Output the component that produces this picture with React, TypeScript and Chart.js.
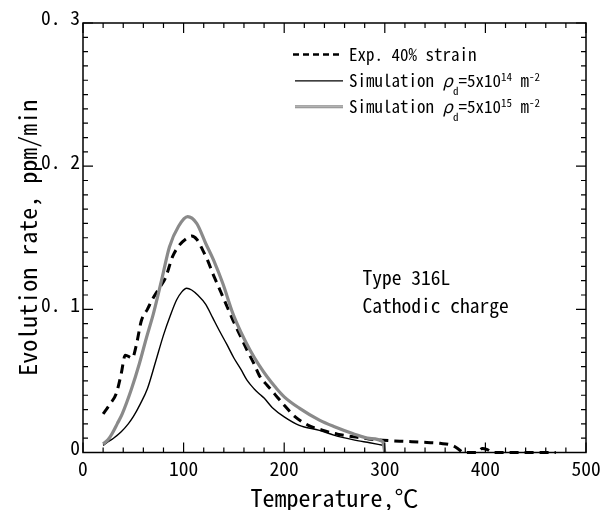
import React, { useEffect, useRef } from 'react';
import { Chart, registerables } from 'chart.js';

Chart.register(...registerables);

const FONT = "'Noto Sans Mono CJK JP', 'Noto Sans CJK JP', 'DejaVu Sans Mono', monospace";

// Experimental curve (40% strain)
const expT = [20, 27, 33, 38, 42, 49, 53, 58, 64, 69, 76, 82, 89, 96, 102, 108, 113, 119, 124, 129, 134, 139, 149, 156, 163, 170, 176, 183, 190, 200, 211, 224, 238, 253, 269, 284, 298, 318, 337, 355, 368, 374, 378, 392, 397, 402, 408, 470];
const expRate = [0.027, 0.034, 0.041, 0.055, 0.068, 0.066, 0.075, 0.092, 0.1, 0.107, 0.115, 0.122, 0.1368, 0.145, 0.149, 0.1512, 0.149, 0.1414, 0.134, 0.125, 0.117, 0.1088, 0.0925, 0.082, 0.0716, 0.062, 0.0529, 0.047, 0.0413, 0.033, 0.0249, 0.019, 0.0156, 0.0128, 0.011, 0.0095, 0.0086, 0.0078, 0.0072, 0.0064, 0.0047, 0.002, 0, 0, 0.0028, 0.002, 0, 0];

// Simulation rho_d = 5x10^14 m^-2
const simLowT = [20, 25, 30, 38, 45, 50, 57, 64, 72, 80, 87, 93, 98, 103, 108, 114, 122, 129, 136, 143, 150, 157, 163, 170, 176, 180, 188, 200, 215, 235, 250, 268, 285, 298];
const simLowRate = [0.005, 0.0075, 0.0098, 0.0145, 0.02, 0.025, 0.034, 0.0445, 0.063, 0.082, 0.096, 0.1065, 0.112, 0.1147, 0.1135, 0.11, 0.1035, 0.094, 0.0845, 0.0755, 0.066, 0.058, 0.0505, 0.0445, 0.0405, 0.038, 0.0315, 0.0249, 0.019, 0.0155, 0.012, 0.009, 0.0068, 0.0051];

// Simulation rho_d = 5x10^15 m^-2
const simHighT = [20, 25, 29, 34, 39, 48, 56, 63, 70, 78, 86, 95, 104, 113, 122, 130, 139, 149, 157, 166, 175, 183, 192, 200, 215, 235, 250, 268, 285, 298, 300];
const simHighRate = [0.006, 0.009, 0.0133, 0.02, 0.027, 0.044, 0.062, 0.08, 0.097, 0.12, 0.1437, 0.158, 0.1647, 0.16, 0.146, 0.134, 0.118, 0.097, 0.084, 0.0716, 0.061, 0.0529, 0.045, 0.0389, 0.031, 0.0226, 0.018, 0.0133, 0.0098, 0.0075, 0];

const xMin = 0, xMax = 500, xStep = 100, xMinorStep = 20;
const yMin = 0, yMax = 0.3, yStep = 0.1, yMinorStep = 0.01;

const xTitle = 'Temperature,℃';
const yTitle = 'Evolution rate, ppm/min';
const noteLines = ['Type 316L', 'Cathodic charge'];

type Part = { t: string; italic?: boolean; sub?: boolean; sup?: boolean };
const legendRows: { kind: string; parts: Part[] }[] = [
  { kind: 'exp', parts: [{ t: 'Exp. 40% strain' }] },
  { kind: 'low', parts: [{ t: 'Simulation ' }, { t: 'ρ', italic: true }, { t: 'd', sub: true }, { t: '=5x10' }, { t: '14', sup: true }, { t: ' m' }, { t: '-2', sup: true }] },
  { kind: 'high', parts: [{ t: 'Simulation ' }, { t: 'ρ', italic: true }, { t: 'd', sub: true }, { t: '=5x10' }, { t: '15', sup: true }, { t: ' m' }, { t: '-2', sup: true }] },
];

const pts = (t: number[], v: number[]) => t.map((x, i) => ({ x, y: v[i] }));

const framePlugin = {
  id: 'frameAndNotes',
  afterDraw(chart: any) {
    const { ctx, chartArea: a, scales } = chart;
    const xs = scales.x, ys = scales.y;
    ctx.save();
    ctx.strokeStyle = '#000';
    ctx.lineWidth = 1.5;
    ctx.strokeRect(a.left, a.top, a.right - a.left, a.bottom - a.top);
    ctx.lineWidth = 1.2;
    ctx.beginPath();
    const nx = Math.round((xMax - xMin) / xMinorStep);
    for (let i = 0; i <= nx; i++) {
      const v = xMin + i * xMinorStep;
      const px = xs.getPixelForValue(v);
      const len = (i * xMinorStep) % xStep === 0 ? 10 : 5;
      ctx.moveTo(px, a.bottom); ctx.lineTo(px, a.bottom - len);
      ctx.moveTo(px, a.top); ctx.lineTo(px, a.top + len);
    }
    const ny = Math.round((yMax - yMin) / yMinorStep);
    const per = Math.round(yStep / yMinorStep);
    for (let i = 0; i <= ny; i++) {
      const py = ys.getPixelForValue(yMin + i * yMinorStep);
      const len = i % per === 0 ? 10 : 5;
      ctx.moveTo(a.left, py); ctx.lineTo(a.left + len, py);
      ctx.moveTo(a.right, py); ctx.lineTo(a.right - len, py);
    }
    ctx.stroke();

    // legend
    const sx0 = 293, sx1 = 343, tx = 349;
    const baselines = [61, 87.3, 113.3];
    ctx.fillStyle = '#000';
    ctx.textBaseline = 'alphabetic';
    ctx.textAlign = 'left';
    legendRows.forEach((row, r) => {
      const by = baselines[r];
      const ly = by - 6.5;
      ctx.save();
      if (row.kind === 'exp') {
        ctx.strokeStyle = '#000'; ctx.lineWidth = 2.5; ctx.setLineDash([6, 4]);
        ctx.beginPath(); ctx.moveTo(sx0, ly); ctx.lineTo(sx1, ly); ctx.stroke();
      } else if (row.kind === 'low') {
        ctx.strokeStyle = '#000'; ctx.lineWidth = 1.3;
        ctx.beginPath(); ctx.moveTo(sx0 + 2, ly); ctx.lineTo(sx1, ly); ctx.stroke();
      } else {
        ctx.strokeStyle = '#8a8a8a'; ctx.lineWidth = 3;
        ctx.beginPath(); ctx.moveTo(sx0 + 2, ly); ctx.lineTo(sx1, ly); ctx.stroke();
        ctx.strokeStyle = '#c4c4c4'; ctx.lineWidth = 1;
        ctx.beginPath(); ctx.moveTo(sx0 + 2, ly); ctx.lineTo(sx1, ly); ctx.stroke();
      }
      ctx.restore();
      let x = tx;
      row.parts.forEach((p) => {
        const size = p.sub || p.sup ? 11 : 17;
        ctx.font = `${p.italic ? 'italic ' : ''}${size}px ${FONT}`;
        const y = p.sub ? by + 8 : p.sup ? by - 6 : by;
        ctx.fillText(p.t, x, y);
        x += ctx.measureText(p.t).width;
      });
    });

    // note
    ctx.font = `19.5px ${FONT}`;
    ctx.fillText(noteLines[0], 362.5, 284.5);
    ctx.fillText(noteLines[1], 362.5, 312.7);
    ctx.restore();
  },
};

export default function App() {
  const ref = useRef<HTMLCanvasElement | null>(null);
  useEffect(() => {
    if (!ref.current) return;
    const chart = new Chart(ref.current, {
      type: 'scatter',
      data: {
        datasets: [
          { label: 'sim15', data: pts(simHighT, simHighRate), showLine: true, borderColor: '#8a8a8a', borderWidth: 3.2, pointRadius: 0, cubicInterpolationMode: 'monotone' } as any,
          { label: 'sim15core', data: pts(simHighT, simHighRate), showLine: true, borderColor: '#c4c4c4', borderWidth: 1, pointRadius: 0, cubicInterpolationMode: 'monotone' } as any,
          { label: 'sim14', data: pts(simLowT, simLowRate), showLine: true, borderColor: '#000', borderWidth: 1.4, pointRadius: 0, cubicInterpolationMode: 'monotone' } as any,
          { label: 'exp', data: pts(expT, expRate), showLine: true, borderColor: '#000', borderWidth: 3, borderDash: [9, 6], pointRadius: 0, cubicInterpolationMode: 'monotone', clip: 5 } as any,
        ],
      },
      options: {
        responsive: false,
        animation: false,
        devicePixelRatio: 1,
        layout: { padding: { left: 0, top: 23, right: 20, bottom: 0 } },
        plugins: { legend: { display: false }, tooltip: { enabled: false } },
        scales: {
          x: {
            type: 'linear', min: xMin, max: xMax,
            grid: { display: false, drawTicks: false },
            border: { display: false },
            ticks: { stepSize: xStep, padding: 4, color: '#000', font: { family: FONT, size: 19.5 } },
            title: { display: true, text: xTitle, color: '#000', font: { family: FONT, size: 24, lineHeight: 1 }, padding: { top: 0, bottom: 0.5 } },
            afterFit: (s: any) => { s.height = 57.5; },
          },
          y: {
            type: 'linear', min: yMin, max: yMax,
            grid: { display: false, drawTicks: false },
            border: { display: false },
            ticks: {
              stepSize: yStep, padding: 3, labelOffset: -5, color: '#000', font: { family: FONT, size: 19.5 },
              callback: (v: any) => (Number(v) === 0 ? '0' : Number(v).toFixed(1).replace('.', '. ')),
            },
            title: { display: true, text: yTitle, color: '#000', font: { family: FONT, size: 24, lineHeight: 1 }, padding: { top: 16, bottom: 0 } },
            afterFit: (s: any) => { s.width = 83; },
          },
        },
      },
      plugins: [framePlugin],
    } as any);
    return () => chart.destroy();
  }, []);
  return (
    <div style={{ position: 'absolute', left: 0, top: 0, width: 606, height: 510, background: '#fff' }}>
      <canvas ref={ref} width={606} height={510} style={{ display: 'block' }} />
    </div>
  );
}
